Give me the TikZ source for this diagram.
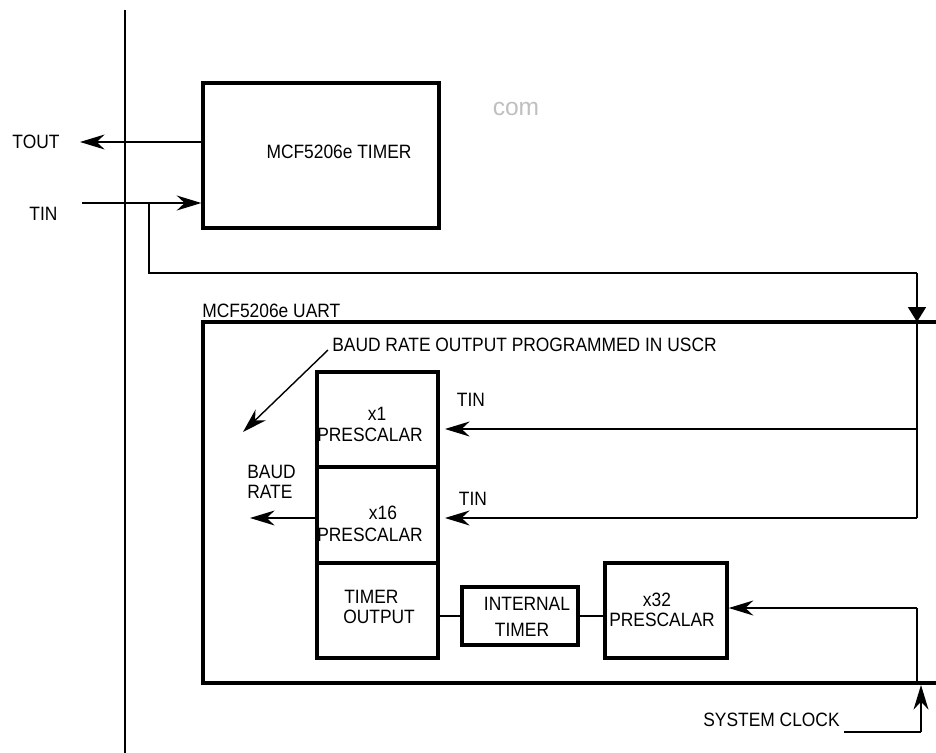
\documentclass[tikz,border=0pt]{standalone}
\usepackage{fontspec}
\setmainfont{Liberation Sans}[FakeStretch=0.9]
\newfontfamily\wmfont{Liberation Sans}
\usetikzlibrary{arrows.meta}
\begin{document}
\begin{tikzpicture}[x=0.02cm, y=-0.02cm,
  box/.style={draw, line width=1.9pt, inner sep=0pt},
  lbl/.style={inner sep=0pt, font=\fontsize{11}{13}\selectfont},
  wire/.style={line width=1.6pt},
  thinwire/.style={line width=1.1pt},
  sarr/.style={-{Stealth[length=14pt,width=8.5pt,inset=4.5pt]}},
  tarr/.style={-{Triangle[length=8.5pt,width=10pt]}}]
\useasboundingbox (0,0) rectangle (936,753);
% main vertical bus line
\coordinate (vtop) at (125,10);
\coordinate (vbot) at (125,753);
\draw[line width=1.5pt] (vtop) -- (vbot);
% timer block
\node[box, minimum width=4.72cm, minimum height=2.9cm] (timer) at (321,155.5) {};
\node[lbl] (timertxt) at (339,152) {MCF5206e TIMER};
\node[inner sep=0pt, text=black!25, font=\wmfont\fontsize{14}{16}\selectfont] (wm) at (516,109) {com};
% TOUT / TIN
\node[lbl] (tout) at (36,142) {TOUT};
\node[lbl] (tin) at (43.5,214) {TIN};
\coordinate (toutend) at (80,142);
\draw[thinwire, sarr] (timer.west |- toutend) -- (toutend);
\coordinate (tinstart) at (82,203);
\draw[thinwire, sarr] (tinstart) -- (timer.west |- tinstart);
% UART frame
\coordinate (utr) at (936,322);
\coordinate (utl) at (203,322);
\coordinate (ubl) at (203,683);
\coordinate (ubr) at (936,683);
\draw[line width=1.9pt] (utr) -- (utl) -- (ubl) -- (ubr);
\node[lbl, anchor=west] (uarttxt) at (202,311) {MCF5206e UART};
\node[lbl, anchor=west] (baudprog) at (332,345) {BAUD RATE OUTPUT PROGRAMMED IN USCR};
\coordinate (dstart) at (328,350);
\coordinate (dend) at (243,432);
\draw[line width=0.8pt, sarr] (dstart) -- (dend);
% prescaler column
\node[box, minimum width=2.42cm, minimum height=1.9cm] (x1) at (377.5,419.5) {};
\node[box, minimum width=2.42cm, minimum height=1.92cm] (x16) at (377.5,515) {};
\node[box, minimum width=2.42cm, minimum height=1.9cm] (tob) at (377.5,610.5) {};
\node[lbl] (x1a) at (377,414) {x1};
\node[lbl] (x1b) at (370,435) {PRESCALAR};
\node[lbl] (x16a) at (383,513) {x16};
\node[lbl] (x16b) at (370,535) {PRESCALAR};
\node[lbl, anchor=west] (toa) at (344,597) {TIMER};
\node[lbl, anchor=west] (tob2) at (343,617) {OUTPUT};
% internal timer & x32
\node[box, minimum width=2.32cm, minimum height=1.16cm] (itim) at (520,616) {};
\node[lbl] (ita) at (527,604) {INTERNAL};
\node[lbl] (itb) at (522,630) {TIMER};
\node[box, minimum width=2.44cm, minimum height=1.9cm] (x32) at (666,610.5) {};
\node[lbl] (x32a) at (657,600) {x32};
\node[lbl] (x32b) at (662,620) {PRESCALAR};
\draw[wire] (tob.east |- itim) -- (itim.west);
\draw[wire] (itim.east) -- (x32.west |- itim);
% baud rate output
\node[lbl, anchor=west] (baud1) at (247,472) {BAUD};
\node[lbl, anchor=west] (baud2) at (247,492) {RATE};
\coordinate (baudend) at (250,518);
\draw[thinwire, sarr] (x16.west |- baudend) -- (baudend);
% TIN routing to UART
\coordinate (br) at (149,203);
\coordinate (rtop) at (917,273);
\coordinate (ut) at (917,322);
\coordinate (rbend) at (917,518);
\coordinate (t1) at (917,429);
\draw[wire] (br) |- (rtop);
\draw[wire, tarr] (rtop) -- (ut);
\draw[wire] (ut) -- (rbend);
\draw[thinwire, sarr, shorten >=3pt] (rbend) -- (x16.east |- rbend);
\draw[thinwire, sarr, shorten >=3pt] (t1) -- (x1.east |- t1);
\node[lbl] (tin1) at (471,400) {TIN};
\node[lbl] (tin2) at (473,499) {TIN};
% system clock
\coordinate (ck) at (917,608);
\coordinate (ckb) at (917,683);
\draw[wire] (ckb) -- (ck);
\draw[thinwire, sarr] (ck) -- (x32.east |- ck);
\node[lbl, anchor=east] (sysclk) at (840,720) {SYSTEM CLOCK};
\coordinate (sc) at (844,732);
\coordinate (scc) at (921,732);
\coordinate (scu) at (921,685);
\draw[wire] (sc) -- (scc);
\draw[thinwire, sarr] (scc) -- (scu);
\end{tikzpicture}
\end{document}
